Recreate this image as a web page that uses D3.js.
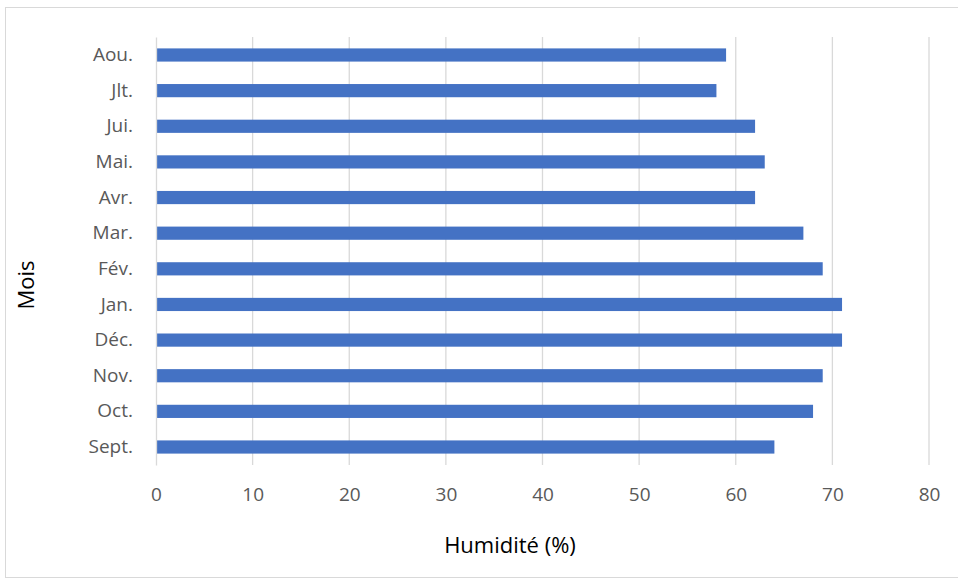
<!DOCTYPE html>
<html>
<head>
<meta charset="utf-8">
<script src="https://cdn.jsdelivr.net/npm/d3@7"></script>
<style>
  body { margin: 0; background: #fff; }
  text { font-family: "Open Sans", "Noto Sans", sans-serif; }
</style>
</head>
<body>
<div id="container"></div>
<script>
const width = 958;
const height = 581;

// months from bottom to top as in the chart
const months = ["Sept.", "Oct.", "Nov.", "Déc.", "Jan.", "Fév.", "Mar.", "Avr.", "Mai.", "Jui.", "Jlt.", "Aou."];
const humidity = [64, 68, 69, 71, 71, 69, 67, 62, 63, 62, 58, 59];
const xTicks = [0, 10, 20, 30, 40, 50, 60, 70, 80];

const plot = {left: 156, right: 929, top: 37, bottom: 465};

const svg = d3.select("div#container").append("svg")
    .attr("width", width)
    .attr("height", height);

// chart border
svg.append("rect")
    .attr("x", 5.5).attr("y", 7.5)
    .attr("width", 960).attr("height", 570)
    .attr("fill", "#fff")
    .attr("stroke", "#d9d9d9");

const xScale = d3.scaleLinear().domain([0, 80]).range([plot.left, plot.right]);
const yScale = d3.scaleBand()
    .domain(months.slice().reverse())
    .range([plot.top, plot.bottom])
    .paddingInner(0.63)
    .paddingOuter(0.32);

// gridlines
svg.append("g")
    .selectAll("line")
    .data(xTicks.slice(1))
    .enter().append("line")
    .attr("x1", d => xScale(d)).attr("x2", d => xScale(d))
    .attr("y1", plot.top).attr("y2", plot.bottom)
    .attr("stroke", "#d9d9d9")
    .attr("stroke-width", 1.3);

// x axis labels
const xaxis = d3.axisBottom(xScale).tickValues(xTicks).tickSize(0).tickPadding(23);
svg.append("g")
    .attr("transform", "translate(0," + plot.bottom + ")")
    .call(xaxis)
    .call(g => g.select(".domain").remove())
    .selectAll("text")
    .attr("font-size", 19)
    .attr("fill", "#595959")
    .style("font-family", "'Open Sans', sans-serif");

// bars
svg.append("g")
    .selectAll("rect")
    .data(months)
    .enter().append("rect")
    .attr("x", xScale(0))
    .attr("y", d => yScale(d))
    .attr("width", (d, i) => xScale(humidity[i]) - xScale(0))
    .attr("height", yScale.bandwidth())
    .attr("fill", "#4472c4");

// y axis
const yaxis = d3.axisLeft(yScale).tickSize(0).tickPadding(23);
const yg = svg.append("g")
    .attr("transform", "translate(" + plot.left + ",0)")
    .call(yaxis);
yg.select(".domain").attr("stroke", "#d9d9d9").attr("stroke-width", 1.3);
yg.selectAll("text")
    .attr("font-size", 19)
    .attr("fill", "#595959")
    .style("font-family", "'Open Sans', sans-serif");

// axis titles
svg.append("text")
    .attr("x", 510)
    .attr("y", 553)
    .attr("text-anchor", "middle")
    .attr("font-size", 22)
    .attr("fill", "#000")
    .text("Humidité (%)");

svg.append("text")
    .attr("transform", "translate(34,285) rotate(-90)")
    .attr("text-anchor", "middle")
    .attr("font-size", 22)
    .attr("fill", "#000")
    .text("Mois");
</script>
</body>
</html>
